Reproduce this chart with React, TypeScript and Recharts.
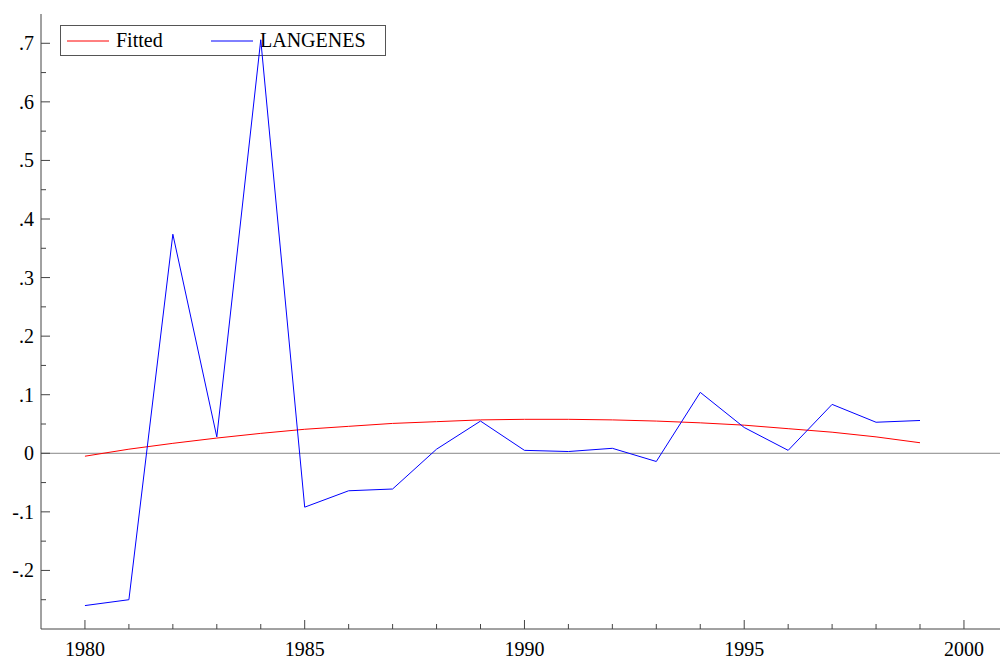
import { LineChart, Line, XAxis, YAxis, ReferenceLine, Customized } from 'recharts';

const years = [1980, 1981, 1982, 1983, 1984, 1985, 1986, 1987, 1988, 1989, 1990, 1991, 1992, 1993, 1994, 1995, 1996, 1997, 1998, 1999];
const langenes = [-0.26, -0.25, 0.374, 0.028, 0.706, -0.092, -0.064, -0.061, 0.007, 0.055, 0.005, 0.003, 0.0085, -0.014, 0.104, 0.044, 0.005, 0.0835, 0.053, 0.056];
const fitted = [-0.005, 0.007, 0.017, 0.026, 0.034, 0.041, 0.046, 0.051, 0.054, 0.057, 0.058, 0.058, 0.057, 0.055, 0.052, 0.048, 0.042, 0.036, 0.028, 0.018];

const xTicks = [1980, 1981, 1982, 1983, 1984, 1985, 1986, 1987, 1988, 1989, 1990, 1991, 1992, 1993, 1994, 1995, 1996, 1997, 1998, 1999, 2000];
const yTicks = [-0.25, -0.2, -0.15, -0.1, -0.05, 0, 0.05, 0.1, 0.15, 0.2, 0.25, 0.3, 0.35, 0.4, 0.45, 0.5, 0.55, 0.6, 0.65, 0.7];

const data = years.map((year, i) => ({ year, LANGENES: langenes[i], Fitted: fitted[i] }));

const FONT = 'Liberation Serif, Times New Roman, serif';
const AXIS = '#444';
const txt = { fontFamily: FONT, fontSize: 20 };

const XTick = ({ x, y, payload }: any) => {
  const major = payload.value % 5 === 0;
  return (
    <g>
      <line x1={x} y1={y} x2={x} y2={y - (major ? 9 : 5)} stroke={AXIS} />
      {major && (
        <text x={x} y={y + 27} textAnchor="middle" style={txt} fill="#000">
          {payload.value}
        </text>
      )}
    </g>
  );
};

const fmtY = (v: number) => {
  const s = v.toFixed(1);
  if (s === '0.0' || s === '-0.0') return '0';
  return s.replace('0.', '.');
};

const YTick = ({ x, y, payload }: any) => {
  const v = payload.value;
  const major = Math.abs(v * 10 - Math.round(v * 10)) < 1e-6;
  return (
    <g>
      <line x1={x} y1={y} x2={x + (major ? 9 : 5)} y2={y} stroke={AXIS} />
      {major && (
        <text x={x - 7} y={y + 7} textAnchor="end" style={txt} fill="#000">
          {fmtY(v)}
        </text>
      )}
    </g>
  );
};

const LegendBox = () => (
  <g>
    <rect x={60.5} y={25.5} width={325} height={30} fill="#fff" stroke="#555" />
    <line x1={67} y1={41} x2={109} y2={41} stroke="#ff0000" />
    <text x={116} y={47} style={txt} fill="#000">Fitted</text>
    <line x1={211} y1={41} x2={253} y2={41} stroke="#0000ff" />
    <text x={260} y={47} style={txt} fill="#000">LANGENES</text>
  </g>
);

export default function App() {
  return (
    <div style={{ position: 'fixed', left: 0, top: 0, width: 1000, height: 661, background: '#fff', fontFamily: FONT }}>
      <LineChart width={1000} height={661} data={data} margin={{ top: 14, right: 0, left: 0, bottom: 0 }}>
        <XAxis
          dataKey="year"
          type="number"
          domain={[1979, 2000.82]}
          allowDataOverflow
          ticks={xTicks}
          interval={0}
          height={32}
          tickSize={0}
          tickMargin={0}
          tick={<XTick />}
          axisLine={{ stroke: AXIS }}
        />
        <YAxis
          type="number"
          domain={[-0.3, 0.75]}
          allowDataOverflow
          ticks={yTicks}
          interval={0}
          width={41}
          tickSize={0}
          tickMargin={0}
          tick={<YTick />}
          axisLine={{ stroke: AXIS }}
        />
        <ReferenceLine y={0} stroke="#888" />
        <Customized component={LegendBox} />
        <Line dataKey="Fitted" stroke="#ff0000" strokeWidth={1} dot={false} isAnimationActive={false} />
        <Line dataKey="LANGENES" stroke="#0000ff" strokeWidth={1} dot={false} isAnimationActive={false} />
      </LineChart>
    </div>
  );
}
